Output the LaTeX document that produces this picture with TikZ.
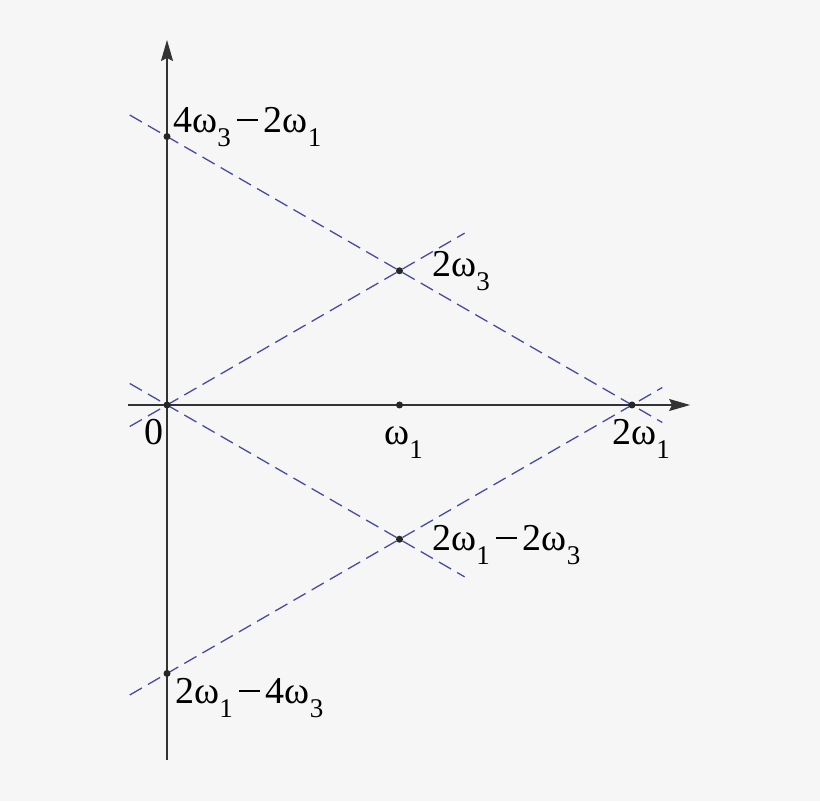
\documentclass[tikz,border=0pt]{standalone}
\usepackage{fontspec}
\setmainfont{Liberation Serif}
\usetikzlibrary{arrows.meta}
\definecolor{bg}{HTML}{F6F6F6}
\definecolor{dblue}{RGB}{70,76,165}
\newcommand{\ix}[1]{\raisebox{-7pt}{\fontsize{13.5}{13.5}\selectfont #1}}
\newcommand{\mn}{\hspace{3pt}\rule[5.6pt]{10.5pt}{0.75pt}\hspace{3pt}}
\tikzset{
  >={Stealth[length=10.5pt,width=6pt,inset=1.5pt]},
  ax/.style = {
    draw=black!80, line width=0.7pt
  },
  dl/.style = {
    draw=dblue, line width=0.65pt, dash pattern=on 7pt off 3.5pt
  },
  d/.style = {
    circle, fill=black!85, inner sep=0pt, minimum size=3.5pt
  },
  lbl/.style = {
    inner sep=0pt, anchor=base west, font=\fontsize{19}{21}\selectfont
  }
}
\begin{document}
\begin{tikzpicture}[x=116.25pt, y=116.25pt]
  \fill [bg] (-0.7183,-1.7033) rectangle (2.8086,1.7419);
  \useasboundingbox (-0.7183,-1.7033) rectangle (2.8086,1.7419);
  \path
    (0,0) coordinate (o)
    (1,0) coordinate (w1)
    (2,0) coordinate (tw1)
    (1,0.5774) coordinate (tw3)
    (1,-0.5774) coordinate (dif)
    (0,1.1547) coordinate (top)
    (0,-1.1547) coordinate (bot)
    (-0.168,0) coordinate (xl)
    (2.25,0) coordinate (xr)
    (0,-1.527) coordinate (yb)
    (0,1.57) coordinate (yt);
  % dashed lines
  \draw [dl, shorten <=-21.5pt, shorten >=-17.5pt] (top) -- (tw1);
  \draw [dl, shorten <=-21.5pt, shorten >=-17.5pt] (bot) -- (tw1);
  \draw [dl, shorten <=-21.5pt, shorten >=-37.6pt] (o) -- (tw3);
  \draw [dl, shorten <=-21.5pt, shorten >=-37.6pt] (o) -- (dif);
  % axes
  \draw [ax, ->] (xl) -- (xr);
  \draw [ax, ->] (yb) -- (yt);
  \path
    (o) node [d] (o-d) {}
    (w1) node [d] (w1-d) {}
    (tw1) node [d] (tw1-d) {}
    (tw3) node [d] (tw3-d) {}
    (dif) node [d] (dif-d) {}
    (top) node [d] (top-d) {}
    (bot) node [d] (bot-d) {};
  \path
    (0.026,1.174) node [lbl] (top-l) {4ω\ix{3}\mn2ω\ix{1}}
    (1.140,0.551) node [lbl] (tw3-l) {2ω\ix{3}}
    (-0.058,-0.172) node [lbl, anchor=base] (o-l) {0}
    (0.933,-0.172) node [lbl] (w1-l) {ω\ix{1}}
    (1.914,-0.168) node [lbl] (tw1-l) {2ω\ix{1}}
    (1.140,-0.624) node [lbl] (dif-l) {2ω\ix{1}\mn2ω\ix{3}}
    (0.034,-1.282) node [lbl] (bot-l) {2ω\ix{1}\mn4ω\ix{3}};
\end{tikzpicture}
\end{document}
